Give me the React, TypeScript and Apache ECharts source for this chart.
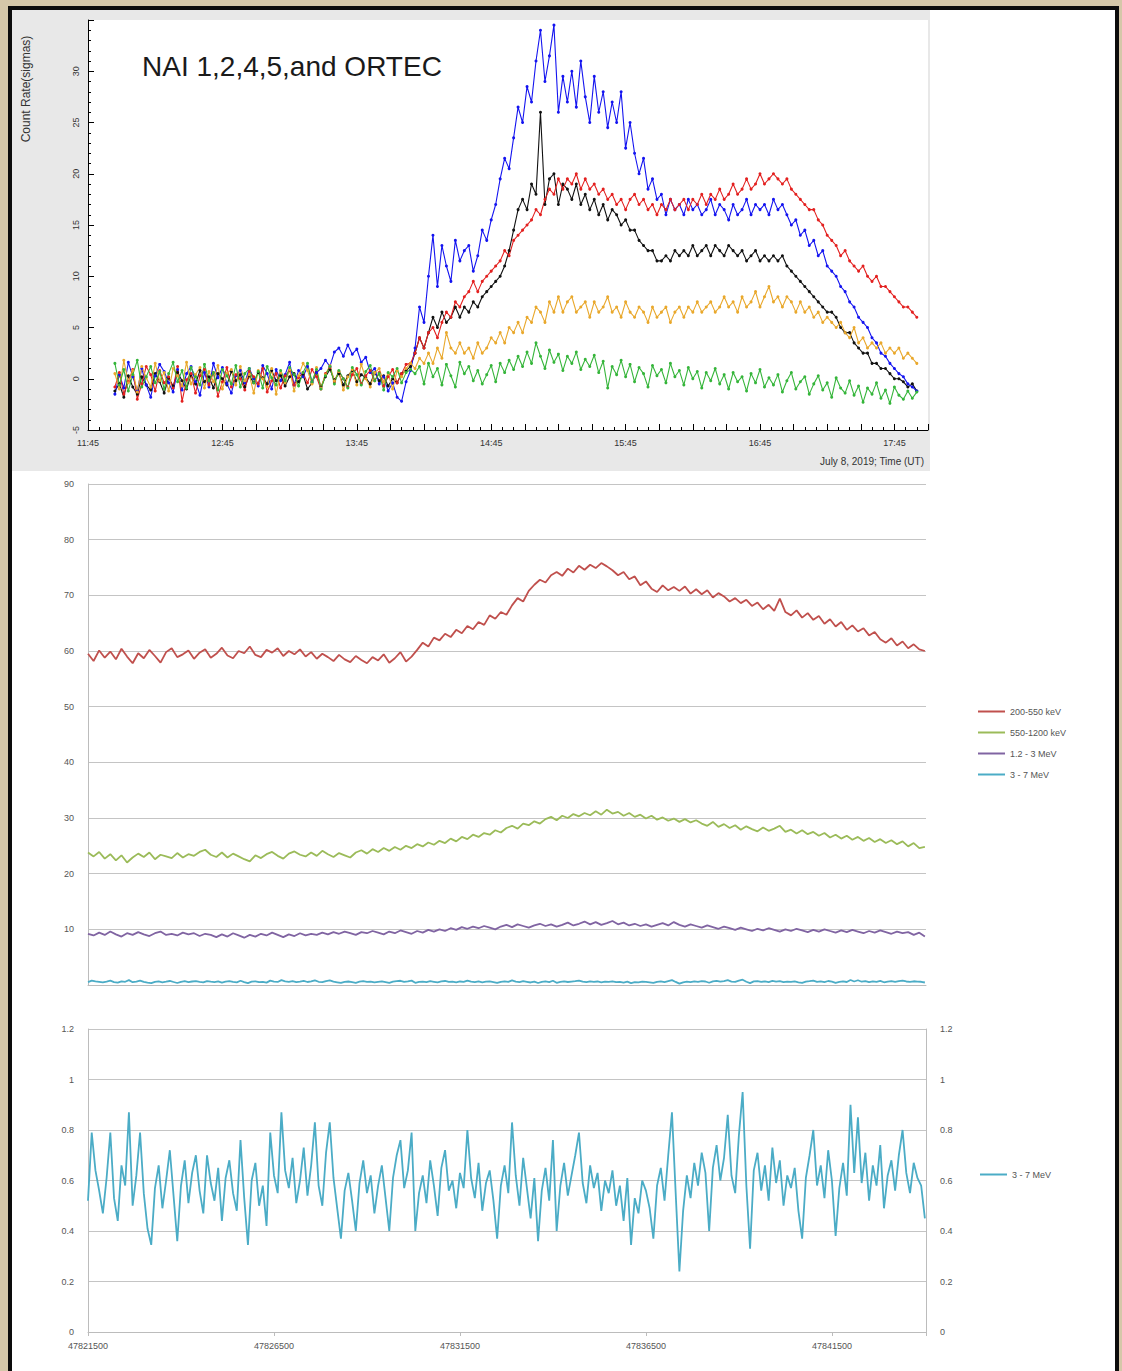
import React, { useEffect, useRef } from "react";
import * as echarts from "echarts";

// ---------- Top panel (NAI 1,2,4,5 and ORTEC): minutes after 11:45, 2-min sampling from 11:57 ----------
const TOP_START_MIN = 12;
const TOP_STEP_MIN = 2;
const topHourLabels = ["11:45", "12:45", "13:45", "14:45", "15:45", "16:45", "17:45"];

const topBlack = [
  -1.2, -0.5, -1.8, 0.3, -0.8, -1.5, 0.2, -0.6, -1.1, 0.5, -0.3, -1.4, 0.1, -0.7, 0.6, -0.2, -1.0, 0.4, -0.5, 0.8,
  -0.3, 0.2, -0.9, 0.5, 0.0, -0.6, 0.7, -0.2, 0.4, -0.8, 0.3, -0.4, 0.6, 0.1, -0.5, 0.8, -0.2, 0.3, -0.7, 0.2,
  0.5, -0.3, 0.4, -1.0, -0.4, 0.6, -0.8, 0.2, 0.9, -0.1, 0.5, -0.6, 0.3, 0.8, -0.3, 0.4, 0.1, -0.5, 0.6, -0.2,
  0.3, -0.7, 0.0, -0.4, 0.5, 0.8, 1.2,
  2.5, 4, 3, 4.5, 6, 5, 6.5, 5.5, 6, 7, 6, 7, 6.5, 7.5, 7, 8, 8.5, 9, 9.5, 10,
  11, 12.5, 14.5, 16.5, 17.5, 16.5, 19, 18, 26, 17, 19.5, 20, 17, 19, 18.5, 17.5, 19, 17, 18, 16.5,
  17.5, 16, 17, 15.5, 16.5, 16, 15, 15.5, 14.5, 14.5, 13.5, 13, 12.5, 12.5, 11.5, 11.5, 12, 11.5, 12.5, 12,
  12.5, 12, 13, 12, 12.5, 13, 12, 13, 12.5, 12, 13, 12.5, 12, 12.5, 11.5, 12, 12.5, 11.5, 12, 11.5,
  12, 11.5, 12, 11, 10.5, 10, 9.5, 9, 8.5, 8, 7.5, 7, 6.5, 6.5, 6, 5, 4.5, 4.5, 3.5, 3,
  2.5, 2.5, 1.5, 1.5, 1, 1, 0.5, 0, 0, -0.3, -0.8, -0.5, -1.2,
];
const topBlue = [
  -1.5, 0.4, -0.9, 1.6, 0.2, -1.2, 1.0, -0.6, -1.8, 0.3, 1.4, 0.7, -0.4, -1.3, 0.9, -1.1, 0.5, 1.2, -0.3, -1.6,
  0.6, -0.8, 1.5, 0.1, 1.1, -0.5, -1.4, 0.3, 0.8, -0.4, 1.0, 0.0, -0.7, 1.3, 0.5, -1.0, 0.9, -0.2, 0.4, 1.6,
  -0.6, 0.8, 0.2, 1.2, -0.3, 0.6, 1.0, 1.8, 1.2, 2.6, 3.0, 2.2, 3.3, 2.4, 2.9, 1.6, 2.1, 0.6, 1.0, -0.5,
  0.2, -1.2, -0.4, -1.8, -2.2, -0.3, 0.8,
  3, 7, 5.5, 10, 14, 9, 13, 11, 9.5, 13.5, 11.5, 12.5, 13, 10.5, 12, 14.5, 13.5, 15.5, 17, 19.5,
  21.5, 20.5, 23.5, 26.5, 25, 28.5, 27, 31, 34, 29, 31.5, 34.5, 26, 29.5, 27, 30, 26.5, 31, 27.5, 25,
  29.5, 26, 28, 24.5, 27, 25, 28, 22.5, 25, 22, 20, 21.5, 18.5, 19.5, 17.5, 18, 16, 17.5, 16.5, 17,
  16, 17.5, 16.5, 17, 16, 16.5, 17.5, 16, 17, 16.5, 15.5, 17, 16, 16.5, 17.5, 16, 17, 16.5, 17, 16,
  17.5, 16.5, 17, 16, 15, 15.5, 14, 14.5, 13, 13.5, 12, 12.5, 11, 10.5, 10, 9, 8.5, 7.5, 7, 6,
  5.5, 5, 4, 3.5, 2.5, 2.2, 1.5, 1, 0.5, 0.2, -0.5, -0.8, -1.2,
];
const topRed = [
  -0.8, 0.6, -1.5, -0.3, 0.9, -2.0, -0.5, 1.2, 0.4, -1.2, 0.8, -0.4, 0.2, -0.9, 1.2, -2.2, -0.1, 0.5, -1.4, 0.3,
  0.9, -0.6, 0.6, -1.7, -0.3, 1.1, -0.8, 0.4, 0.0, -1.1, 0.7, 0.2, -0.5, 1.0, -1.3, -0.2, 0.5, -0.9, 0.3, 0.8,
  -0.6, 0.1, 0.6, -0.4, 0.9, 0.2, -1.0, 0.5, 1.1, -0.3, 0.7, 0.0, -0.8, 0.4, 1.0, -0.5, 0.3, 0.8, -0.2, 0.6,
  -0.7, 0.2, 0.9, -0.4, 0.5, 1.4, 1.5,
  2.5, 4, 3, 4.5, 5, 4, 5.5, 6.5, 6, 7.5, 7, 8, 8.5, 9.5, 8.5, 9.5, 10, 10.5, 11, 11.5,
  12.5, 12, 13.5, 14, 14.5, 15, 15.5, 16.5, 16, 17.5, 18.5, 18, 19.5, 18.5, 19.5, 19, 20, 18.5, 19.5, 18.5,
  19, 18, 18.5, 17.5, 18, 17, 17.5, 16.5, 17.5, 18, 17, 17.5, 16.5, 17, 16, 17, 16.5, 17.5, 16.5, 17,
  17.5, 16.5, 17.5, 17, 18, 17, 18, 17.5, 18.5, 17.5, 18, 19, 18, 18.5, 19.5, 18.5, 19, 20, 19, 19.5,
  20, 19.5, 19, 19.5, 18.5, 18, 17.5, 17, 16.5, 16.5, 15.5, 15, 14, 13.5, 13, 12, 12.5, 11.5, 11, 10.5,
  11, 10, 9.5, 10, 9, 9, 8.5, 8, 7.5, 7, 7, 6.5, 6,
];
const topOrange = [
  0.5, -1.0, 1.8, -0.4, 0.8, -1.3, 1.2, 0.1, -0.8, 1.5, -0.2, 0.6, -1.2, 1.0, 0.3, -0.7, 1.6, -0.5, 0.4, 1.1,
  -0.9, 0.7, -0.3, 1.3, -1.0, 0.5, 0.9, -0.6, 1.2, -0.2, 0.4, -1.4, 0.8, 0.0, -0.8, 1.0, -1.5, 0.6, -0.4, 0.9,
  -1.2, 0.3, 1.5, 0.8, -0.5, 1.1, -0.9, 0.4, 1.3, -0.2, 0.7, -1.1, 0.2, 0.9, -0.6, 1.4, 0.0, -0.8, 0.6, 1.0,
  -0.3, 0.5, -1.0, 0.8, 0.2, 1.0, 1.5,
  1, 2, 1.5, 2.5, 1.5, 3, 2, 4.5, 3, 2.5, 3.5, 2.5, 3, 2, 3.5, 2.5, 3, 4, 3.5, 4.5,
  3.5, 5, 4.5, 5.5, 4.5, 6, 5.5, 7, 6.5, 5.5, 7.5, 6.5, 8, 6.5, 7.5, 8, 6.5, 7, 7.5, 6,
  7.5, 6.5, 7, 8, 6.5, 7, 6, 7.5, 6.5, 6, 7, 6.5, 5.5, 7, 6, 6.5, 7, 5.5, 6.5, 7,
  6, 7, 6.5, 7.5, 6.5, 7, 7.5, 6.5, 7, 8, 7, 7.5, 6.5, 8, 7, 7.5, 8.5, 7, 8, 9,
  7.5, 8, 7, 8, 7.5, 6.5, 7.5, 6.5, 7, 6, 6.5, 5.5, 6, 5.5, 5, 5.5, 4.5, 4, 5, 3.5,
  4, 3, 3.5, 3, 3.5, 2.5, 3, 2.5, 3, 2, 2.5, 2, 1.5,
];
const topGreen = [
  1.5, -0.6, 0.9, -1.2, 0.4, 1.8, -0.8, 0.2, 1.2, -0.4, 0.7, -1.0, 0.5, 1.6, -0.3, 0.8, -0.9, 1.1, 0.2, -0.6,
  1.4, -0.2, 0.6, -1.1, 0.9, 0.3, -0.5, 1.3, -0.8, 0.5, 1.0, -0.4, 0.7, -0.9, 1.2, 0.1, -0.6, 0.8, -0.2, 1.1,
  0.4, -0.7, 0.6, 1.5, -0.3, 0.9, -1.0, 0.3, 1.2, -0.5, 0.8, 0.0, -0.9, 1.1, 0.4, -0.6, 0.7, 1.3, -0.2, 0.5,
  -1.1, 0.6, 0.2, 1.0, -0.4, 0.6, 0.9,
  0.5, 1.2, -0.5, 1.5, 0.2, 1.0, -0.6, 1.4, 0.3, -0.8, 1.6, 0.5, 1.2, -0.2, 0.8, -0.5, 0.4, 1.3, -0.3, 1.5,
  0.6, 1.8, 0.9, 2.2, 1.2, 2.6, 1.5, 3.5, 2.2, 1.0, 2.8, 1.6, 2.4, 0.8, 2.2, 1.5, 2.6, 0.9, 1.9, 1.2,
  2.3, 0.6, 1.7, -0.9, 1.2, 0.4, 1.8, 0.2, 1.4, -0.3, 1.1, 0.5, -0.8, 1.3, 0.3, 0.9, -0.4, 1.5, 0.2, 0.8,
  -0.6, 1.1, 0.0, 0.7, -0.9, 0.6, -0.2, 1.0, -0.5, 0.4, -1.0, 0.6, -0.3, 0.2, -1.2, 0.5, -0.4, 0.9, -0.8, 0.1,
  -0.6, 0.4, -1.3, -0.2, 0.6, -1.0, -0.3, 0.2, -1.5, -0.5, 0.3, -1.1, -0.4, -1.8, 0.1, -0.9, -1.4, -0.2, -1.6, -0.7,
  -2.3, -0.9, -1.5, -0.4, -1.9, -1.1, -2.4, -0.8, -1.6, -2.0, -1.2, -1.9, -1.3,
];

// ---------- Middle panel (seconds after 47821500, 150 s sampling) ----------
const MID_STEP_S = 150;
const midNames = ["200-550 keV", "550-1200 keV", "1.2 - 3 MeV", "3 - 7 MeV"];
const mid200to550 = [
  59.5, 58.2, 60.1, 58.8, 59.9, 58.5, 60.4, 59.0, 57.8, 59.6, 58.7, 60.2, 59.1, 57.9, 59.8, 60.5, 58.9, 59.4, 60.1, 58.6,
  59.7, 60.3, 58.8, 59.5, 60.6, 59.2, 58.7, 60.0, 59.6, 60.8, 59.3, 58.9, 60.2, 59.7, 60.5, 59.1, 60.0, 59.4, 60.3, 59.0,
  59.8, 58.6, 59.5, 58.9, 58.2, 59.3, 58.5, 58.0, 59.1, 58.4, 57.8, 58.9, 58.3, 59.4, 57.9, 58.7, 59.8, 58.1, 59.0, 60.2,
  61.5, 60.8, 62.4, 61.9, 63.1, 62.5, 63.8, 63.2, 64.5, 63.9, 65.2, 64.7, 66.4, 65.8, 67.0, 66.5, 68.2, 69.5, 68.9, 70.8,
  71.9, 72.8, 72.3, 73.6, 74.2, 73.5, 74.8, 74.1, 75.3, 74.6, 75.5, 74.9, 75.8, 75.2, 74.5, 73.6, 74.2, 72.9, 73.4, 71.8,
  72.5, 71.2, 70.6, 71.8, 70.9, 71.5, 70.8, 71.6, 70.3, 71.1, 70.2, 70.9, 69.6, 70.4, 69.8, 68.9, 69.5, 68.6, 69.2, 68.1,
  68.7, 67.5, 68.3, 67.2, 69.4, 67.0, 66.4, 67.3, 66.0, 66.8, 65.6, 66.3, 64.9, 65.7, 64.4, 65.2, 63.8, 64.6, 63.5, 64.1,
  62.8, 63.4, 62.1, 61.5, 62.3, 61.0, 61.7, 60.5, 61.2, 60.3, 60.0,
];
const mid550to1200 = [
  23.8, 23.1, 23.9, 22.7, 23.5, 22.4, 23.3, 22.0, 22.9, 23.6, 23.0, 23.8, 22.6, 23.4, 23.1, 22.8, 23.7, 22.9, 23.5, 23.2,
  23.9, 24.3, 23.4, 23.0, 23.8, 22.9, 23.6, 23.1, 22.6, 22.2, 23.3, 22.8, 23.5, 23.9, 23.2, 22.7, 23.6, 24.0, 23.4, 23.1,
  23.8, 23.2, 24.1, 23.5, 23.0, 23.7, 23.3, 22.9, 23.8, 24.2, 23.6, 24.4, 23.9, 24.6, 24.1, 24.8, 24.3, 25.0, 24.6, 25.3,
  24.9, 25.6, 25.2, 25.9, 25.5, 26.3, 25.8, 26.6, 26.2, 27.0, 26.6, 27.3, 27.0, 27.8, 27.4, 28.2, 28.6, 28.1, 29.0, 28.7,
  29.4, 29.0, 29.8, 30.2, 29.6, 30.4, 30.0, 30.7, 30.3, 30.9, 30.5, 31.2, 30.6, 31.5, 30.8, 31.1, 30.4, 30.9, 30.2, 30.6,
  29.9, 30.4, 29.7, 30.1, 29.5, 29.9, 29.3, 29.8, 29.2, 29.6, 29.0, 28.6, 29.3, 28.4, 28.9, 28.2, 28.7, 27.9, 28.5, 28.0,
  27.6, 28.3, 27.7, 28.1, 28.6, 27.5, 27.9, 27.2, 27.8, 27.1, 27.5, 26.8, 27.3, 26.5, 27.0, 26.3, 26.8, 26.1, 26.6, 25.9,
  26.4, 25.7, 26.2, 25.5, 26.0, 25.3, 25.8, 24.9, 25.5, 24.6, 24.8,
];
const mid1200to3000 = [
  9.2, 8.9, 9.4, 9.0, 9.6, 9.1, 8.7, 9.3, 9.0, 9.5, 9.1, 8.8, 9.3, 9.6, 9.0, 9.2, 8.9, 9.4, 9.1, 9.3,
  8.8, 9.2, 9.0, 8.6, 9.1, 8.7, 9.3, 8.9, 8.5, 9.0, 8.7, 9.2, 8.9, 9.4, 9.0, 8.6, 9.1, 8.8, 9.3, 8.9,
  9.2, 9.0, 9.4, 9.1, 9.5, 9.2, 9.6, 9.3, 9.0, 9.5, 9.3, 9.7, 9.4, 9.1, 9.6, 9.3, 9.8, 9.5, 9.2, 9.7,
  9.4, 9.9, 9.6, 10.0, 9.7, 10.2, 9.9, 10.4, 10.1, 10.5, 10.2, 10.6, 10.3, 10.0, 10.5, 10.8, 10.4, 10.9, 10.6, 10.3,
  10.7, 11.0, 10.6, 10.9, 10.5, 10.8, 11.2, 10.7, 11.0, 11.4, 10.9, 11.3, 10.8, 11.1, 11.5, 10.9, 11.2, 10.7, 11.0, 10.6,
  10.9, 10.5, 10.8, 11.1, 10.7, 11.3, 10.8, 10.5, 10.9, 10.6, 10.3, 10.7, 10.4, 10.1, 10.5, 10.2, 9.9, 10.3, 10.0, 9.7,
  10.1, 9.8, 10.2, 9.9, 9.6, 10.0, 9.7, 10.1, 9.8, 9.5, 9.9, 9.6, 10.0, 9.7, 9.4, 9.8, 9.5, 9.9, 9.6, 9.3,
  9.7, 9.4, 9.8, 9.5, 9.2, 9.6, 9.3, 9.5, 9.0, 9.4, 8.7,
];

// ---------- 3 - 7 MeV (middle panel and bottom panel), 100 s sampling ----------
const BOT_STEP_S = 100;
const X_OFFSET = 47821500;
const bottomTickLabels = ["47821500", "47826500", "47831500", "47836500", "47841500"];
const mev3to7 = [
  0.52, 0.79, 0.64, 0.56, 0.47, 0.61, 0.79, 0.53, 0.44, 0.66, 0.58, 0.87, 0.50, 0.62, 0.79, 0.55, 0.41, 0.345, 0.57, 0.66,
  0.49, 0.60, 0.72, 0.54, 0.36, 0.58, 0.68, 0.51, 0.63, 0.70, 0.56, 0.47, 0.70, 0.59, 0.52, 0.65, 0.44, 0.61, 0.68, 0.55,
  0.48, 0.76, 0.53, 0.345, 0.60, 0.67, 0.50, 0.58, 0.42, 0.79, 0.62, 0.55, 0.87, 0.64, 0.57, 0.69, 0.51, 0.60, 0.73, 0.54,
  0.66, 0.83, 0.58, 0.50, 0.71, 0.83, 0.61, 0.49, 0.37, 0.56, 0.63, 0.52, 0.40, 0.59, 0.68, 0.55, 0.62, 0.47, 0.58, 0.66,
  0.53, 0.40, 0.61, 0.70, 0.76, 0.57, 0.64, 0.79, 0.40, 0.55, 0.62, 0.51, 0.68, 0.58, 0.46, 0.65, 0.72, 0.56, 0.60, 0.49,
  0.63, 0.57, 0.80, 0.61, 0.53, 0.67, 0.48, 0.59, 0.64, 0.52, 0.37, 0.58, 0.66, 0.55, 0.83, 0.62, 0.50, 0.69, 0.57, 0.45,
  0.61, 0.36, 0.56, 0.65, 0.52, 0.76, 0.40, 0.58, 0.67, 0.54, 0.62, 0.70, 0.79, 0.59, 0.51, 0.66, 0.57, 0.63, 0.48, 0.60,
  0.55, 0.64, 0.50, 0.58, 0.44, 0.61, 0.345, 0.53, 0.47, 0.60, 0.56, 0.49, 0.37, 0.58, 0.65, 0.52, 0.70, 0.87, 0.55, 0.24,
  0.48, 0.62, 0.53, 0.67, 0.58, 0.71, 0.63, 0.40, 0.65, 0.74, 0.60, 0.69, 0.86, 0.62, 0.55, 0.78, 0.95, 0.58, 0.33, 0.64,
  0.71, 0.56, 0.66, 0.52, 0.73, 0.59, 0.68, 0.50, 0.62, 0.57, 0.65, 0.48, 0.37, 0.61, 0.70, 0.80, 0.58, 0.66, 0.53, 0.72,
  0.60, 0.38, 0.57, 0.67, 0.54, 0.90, 0.63, 0.85, 0.59, 0.71, 0.52, 0.66, 0.58, 0.74, 0.49, 0.62, 0.68, 0.56, 0.70, 0.80,
  0.63, 0.55, 0.67, 0.61, 0.58, 0.45,
];

const FONT = "'Liberation Sans', Arial, sans-serif";

const toTop = (arr: number[]) => arr.map((v, i) => [TOP_START_MIN + TOP_STEP_MIN * i, v]);
const toMid = (arr: number[]) => arr.map((v, i) => [MID_STEP_S * i, v]);
const toBot = (arr: number[]) => arr.map((v, i) => [BOT_STEP_S * i, v]);

function buildOption(): any {
  const topSeries = [
    { name: "NaI black", data: topBlack, color: "#111111" },
    { name: "NaI blue", data: topBlue, color: "#1414f0" },
    { name: "NaI red", data: topRed, color: "#e3201f" },
    { name: "ORTEC orange", data: topOrange, color: "#e9a82c" },
    { name: "NaI green", data: topGreen, color: "#35b53a" },
  ].map((s) => ({
    type: "line",
    name: s.name,
    xAxisIndex: 0,
    yAxisIndex: 0,
    data: toTop(s.data),
    symbol: "circle",
    symbolSize: 3,
    showSymbol: true,
    lineStyle: { width: 1.1, color: s.color },
    itemStyle: { color: s.color },
    z: 3,
  }));

  const midColors = ["#c0504d", "#9bbb59", "#8064a2", "#4bacc6"];
  const midData = [mid200to550, mid550to1200, mid1200to3000];
  const midSeries: any[] = midData.map((d, k) => ({
    type: "line",
    name: midNames[k],
    xAxisIndex: 1,
    yAxisIndex: 1,
    data: toMid(d),
    showSymbol: false,
    lineStyle: { width: 1.8, color: midColors[k] },
    itemStyle: { color: midColors[k] },
  }));
  midSeries.push({
    type: "line",
    name: midNames[3],
    xAxisIndex: 1,
    yAxisIndex: 1,
    data: toBot(mev3to7),
    showSymbol: false,
    lineStyle: { width: 1.8, color: midColors[3] },
    itemStyle: { color: midColors[3] },
  });

  const bottomSeries = {
    type: "line",
    name: midNames[3],
    xAxisIndex: 2,
    yAxisIndex: 2,
    data: toBot(mev3to7),
    showSymbol: false,
    lineStyle: { width: 1.8, color: "#4bacc6" },
    itemStyle: { color: "#4bacc6" },
  };

  const grayLine = { lineStyle: { color: "#bcbcbc", width: 1 } };
  const smallLabel = { fontSize: 9, color: "#555", fontFamily: FONT };

  return {
    animation: false,
    textStyle: { fontFamily: FONT },
    graphic: [
      { type: "rect", z: -10, shape: { x: 0, y: 0, width: 1122, height: 1371 }, style: { fill: "#d5c7a9" } },
      {
        type: "rect",
        z: -9,
        shape: { x: 10, y: 8, width: 1107, height: 1385 },
        style: { fill: "#ffffff", stroke: "#0c0c0c", lineWidth: 4 },
      },
      { type: "rect", z: -8, shape: { x: 12, y: 10, width: 918, height: 461 }, style: { fill: "#e8e8e8" } },
      { type: "rect", z: -7, shape: { x: 88, y: 20, width: 840, height: 410 }, style: { fill: "#ffffff" } },
      {
        type: "text",
        z: 10,
        x: 142,
        y: 66,
        style: {
          text: "NAI 1,2,4,5,and ORTEC",
          fontSize: 28,
          fontFamily: FONT,
          fill: "#1a1a1a",
          align: "left",
          verticalAlign: "middle",
        },
      },
      {
        type: "text",
        z: 10,
        x: 26,
        y: 89,
        rotation: Math.PI / 2,
        style: {
          text: "Count Rate(sigmas)",
          fontSize: 12,
          fontFamily: FONT,
          fill: "#333",
          align: "center",
          verticalAlign: "middle",
        },
      },
      {
        type: "text",
        z: 10,
        x: 924,
        y: 461,
        style: {
          text: "July 8, 2019; Time (UT)",
          fontSize: 10,
          fontFamily: FONT,
          fill: "#333",
          align: "right",
          verticalAlign: "middle",
        },
      },
    ],
    legend: [
      {
        data: midNames,
        orient: "vertical",
        left: 978,
        top: 707,
        padding: 0,
        itemWidth: 27,
        itemHeight: 2,
        itemGap: 12,
        icon: "rect",
        textStyle: { fontSize: 9, color: "#555", fontFamily: FONT },
      },
      {
        data: [midNames[3]],
        orient: "vertical",
        left: 980,
        top: 1170,
        padding: 0,
        itemWidth: 27,
        itemHeight: 2,
        icon: "rect",
        textStyle: { fontSize: 9, color: "#555", fontFamily: FONT },
      },
    ],
    grid: [
      { left: 88, top: 20, width: 840, height: 410 },
      { left: 88, top: 484, width: 838, height: 501 },
      { left: 88, top: 1029, width: 838, height: 303 },
    ],
    xAxis: [
      {
        gridIndex: 0,
        type: "value",
        min: 0,
        max: 375,
        interval: 15,
        axisLine: { show: true, onZero: false, lineStyle: { color: "#000", width: 1 } },
        axisTick: { show: true, inside: true, length: 6, lineStyle: { color: "#000" } },
        minorTick: { show: true, splitNumber: 3, length: 3, lineStyle: { color: "#000" } },
        splitLine: { show: false },
        axisLabel: {
          fontSize: 9,
          color: "#333",
          fontFamily: FONT,
          margin: 8,
          formatter: (v: number) => (v % 60 === 0 ? topHourLabels[v / 60] || "" : ""),
        },
      },
      {
        gridIndex: 1,
        type: "value",
        min: 0,
        max: 22530,
        axisLine: { show: true, onZero: false, ...grayLine },
        axisTick: { show: false },
        axisLabel: { show: false },
        splitLine: { show: false },
      },
      {
        gridIndex: 2,
        type: "value",
        min: 0,
        max: 22530,
        interval: 5000,
        axisLine: { show: true, onZero: false, ...grayLine },
        axisTick: { show: true, length: 4, lineStyle: { color: "#bcbcbc" } },
        splitLine: { show: false },
        axisLabel: {
          ...smallLabel,
          margin: 9,
          formatter: (v: number) => (v % 5000 === 0 ? bottomTickLabels[v / 5000] || String(X_OFFSET + v) : ""),
        },
      },
    ],
    yAxis: [
      {
        gridIndex: 0,
        type: "value",
        min: -5,
        max: 35,
        interval: 5,
        axisLine: { show: true, onZero: false, lineStyle: { color: "#000", width: 1 } },
        axisTick: { show: true, inside: true, length: 6, lineStyle: { color: "#000" } },
        minorTick: { show: true, splitNumber: 5, length: 3, lineStyle: { color: "#000" } },
        splitLine: { show: false },
        axisLabel: {
          fontSize: 9,
          color: "#333",
          fontFamily: FONT,
          rotate: 90,
          margin: 8,
          formatter: (v: number) => (v === 35 ? "" : String(v)),
        },
      },
      {
        gridIndex: 1,
        type: "value",
        min: 0,
        max: 90,
        interval: 10,
        axisLine: { show: true, onZero: false, ...grayLine },
        axisTick: { show: false },
        splitLine: { show: true, lineStyle: { color: "#c4c4c4", width: 1 } },
        axisLabel: { ...smallLabel, margin: 14, formatter: (v: number) => (v === 0 ? "" : String(v)) },
      },
      {
        gridIndex: 2,
        type: "value",
        min: 0,
        max: 1.2,
        interval: 0.2,
        axisLine: { show: true, onZero: false, ...grayLine },
        axisTick: { show: false },
        splitLine: { show: true, lineStyle: { color: "#c4c4c4", width: 1 } },
        axisLabel: { ...smallLabel, margin: 14, formatter: (v: number) => String(+v.toFixed(1)) },
      },
      {
        gridIndex: 2,
        type: "value",
        position: "right",
        min: 0,
        max: 1.2,
        interval: 0.2,
        axisLine: { show: true, onZero: false, ...grayLine },
        axisTick: { show: false },
        splitLine: { show: false },
        axisLabel: { ...smallLabel, margin: 14, formatter: (v: number) => String(+v.toFixed(1)) },
      },
    ],
    series: [...topSeries, ...midSeries, bottomSeries],
  };
}

export default function App() {
  const ref = useRef<HTMLDivElement | null>(null);
  useEffect(() => {
    if (!ref.current) return;
    const chart = echarts.init(ref.current, undefined, { renderer: "svg" });
    chart.setOption(buildOption());
    return () => chart.dispose();
  }, []);
  return (
    <div
      ref={ref}
      style={{ position: "absolute", left: 0, top: 0, width: 1122, height: 1371, overflow: "hidden" }}
    />
  );
}
